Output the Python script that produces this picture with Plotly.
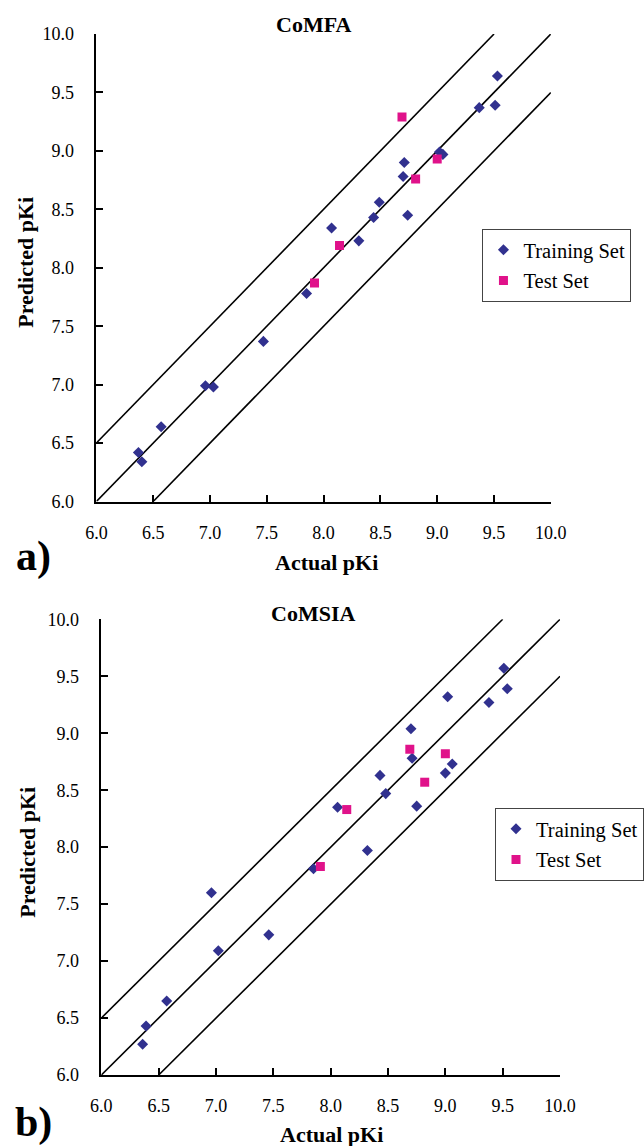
import plotly.graph_objects as go

# ---------------- data ----------------
AXIS_MIN, AXIS_MAX = 6.0, 10.0
LINE_OFFSETS = [-0.5, 0.0, 0.5]

comfa_train_actual = [9.53, 9.37, 9.51, 9.02, 9.05, 8.71, 8.70, 8.49, 8.44, 8.74,
                      8.07, 8.31, 7.85, 7.47, 6.96, 7.03, 6.57, 6.37, 6.40]
comfa_train_pred = [9.64, 9.37, 9.39, 8.99, 8.97, 8.90, 8.78, 8.56, 8.43, 8.45,
                    8.34, 8.23, 7.78, 7.37, 6.99, 6.98, 6.64, 6.42, 6.34]
comfa_test_actual = [8.69, 8.81, 9.00, 8.14, 7.92]
comfa_test_pred = [9.29, 8.76, 8.93, 8.19, 7.87]

comsia_train_actual = [9.51, 9.54, 9.38, 9.02, 8.70, 8.71, 9.06, 9.00, 8.43, 8.48,
                       8.75, 8.06, 8.32, 7.85, 6.96, 7.46, 7.02, 6.57, 6.39, 6.36]
comsia_train_pred = [9.57, 9.39, 9.27, 9.32, 9.04, 8.78, 8.73, 8.65, 8.63, 8.47,
                     8.36, 8.35, 7.97, 7.81, 7.60, 7.23, 7.09, 6.65, 6.43, 6.27]
comsia_test_actual = [8.69, 9.00, 8.82, 8.14, 7.91]
comsia_test_pred = [8.86, 8.82, 8.57, 8.33, 7.83]

panel_titles = ["CoMFA", "CoMSIA"]
panel_labels = ["a)", "b)"]
x_title = "Actual pKi"
y_title = "Predicted pKi"
series_names = ["Training Set", "Test Set"]

# ---------------- style ----------------
W, H = 644, 1146
FONT = "Liberation Serif, Times New Roman, serif"
TRAIN_COLOR = "#31318F"
TEST_COLOR = "#E0128A"


def fx(px):
    return px / W


def fy(py):
    return 1 - py / H


fig = go.Figure()

panels = [
    dict(xa="x", ya="y", legend="legend",
         train=(comfa_train_actual, comfa_train_pred),
         test=(comfa_test_actual, comfa_test_pred)),
    dict(xa="x2", ya="y2", legend="legend2",
         train=(comsia_train_actual, comsia_train_pred),
         test=(comsia_test_actual, comsia_test_pred)),
]

for p in panels:
    for d in LINE_OFFSETS:
        x0 = max(AXIS_MIN, AXIS_MIN - d)
        x1 = min(AXIS_MAX, AXIS_MAX - d)
        fig.add_trace(go.Scatter(
            x=[x0, x1], y=[x0 + d, x1 + d], mode="lines",
            line=dict(color="black", width=1.6),
            xaxis=p["xa"], yaxis=p["ya"], showlegend=False, hoverinfo="skip"))
    fig.add_trace(go.Scatter(
        x=p["train"][0], y=p["train"][1], mode="markers", name=series_names[0],
        marker=dict(symbol="diamond", size=8.5, color=TRAIN_COLOR, line=dict(width=0)),
        xaxis=p["xa"], yaxis=p["ya"], legend=p["legend"], legendgroup="train"))
    fig.add_trace(go.Scatter(
        x=p["test"][0], y=p["test"][1], mode="markers", name=series_names[1],
        marker=dict(symbol="square", size=9, color=TEST_COLOR, line=dict(width=0)),
        xaxis=p["xa"], yaxis=p["ya"], legend=p["legend"], legendgroup="test"))

axis_common = dict(
    range=[AXIS_MIN, AXIS_MAX], dtick=0.5, tick0=AXIS_MIN, tickformat=".1f",
    showline=True, linecolor="black", linewidth=1.6, mirror=False,
    ticks="inside", ticklen=7, tickwidth=1.6, tickcolor="black",
    showgrid=False, zeroline=False, automargin=False,
    tickfont=dict(family=FONT, size=18, color="black"),
)

legend_common = dict(xanchor="left", yanchor="top",
                     bordercolor="#444", borderwidth=1, bgcolor="white",
                     font=dict(family=FONT, size=20.5, color="black"),
                     traceorder="grouped", tracegroupgap=1)

fig.update_layout(
    width=W, height=H,
    margin=dict(l=0, r=0, t=0, b=0),
    paper_bgcolor="white", plot_bgcolor="white",
    font=dict(family=FONT, color="black"),
    xaxis=dict(axis_common, domain=[fx(97.3), fx(556)], anchor="y", ticklabelstandoff=14),
    yaxis=dict(axis_common, domain=[fy(501.5), fy(34)], anchor="x", ticklabelstandoff=17),
    xaxis2=dict(axis_common, domain=[fx(102.3), fx(565.3)], anchor="y2", ticklabelstandoff=14),
    yaxis2=dict(axis_common, domain=[fy(1075), fy(619.3)], anchor="x2", ticklabelstandoff=17),
    legend=dict(legend_common, x=fx(487), y=fy(229)),
    legend2=dict(legend_common, x=fx(500), y=fy(808)),
    showlegend=True,
)

ann = []
# panel titles
for title, (cx, cy) in zip(panel_titles, [(316, 24), (315.5, 613)]):
    ann.append(dict(text=f"<b>{title}</b>", x=fx(cx), y=fy(cy), xref="paper", yref="paper",
                    xanchor="center", yanchor="middle", showarrow=False,
                    font=dict(family=FONT, size=22, color="black")))
# x titles
for (cx, cy) in [(330, 562), (335, 1134)]:
    ann.append(dict(text=f"<b>{x_title}</b>", x=fx(cx), y=fy(cy), xref="paper", yref="paper",
                    xanchor="center", yanchor="middle", showarrow=False,
                    font=dict(family=FONT, size=22, color="black")))
# y titles
for (cx, cy) in [(25, 262), (27, 852)]:
    ann.append(dict(text=f"<b>{y_title}</b>", x=fx(cx), y=fy(cy), xref="paper", yref="paper",
                    xanchor="center", yanchor="middle", showarrow=False, textangle=-90,
                    font=dict(family=FONT, size=22, color="black")))
# panel labels
for lab, (cx, cy) in zip(panel_labels, [(34, 556), (34, 1122)]):
    ann.append(dict(text=f"<b>{lab}</b>", x=fx(cx), y=fy(cy), xref="paper", yref="paper",
                    xanchor="center", yanchor="middle", showarrow=False,
                    font=dict(family=FONT, size=42, color="black")))
fig.update_layout(annotations=ann)

fig.write_html("out.html", config={"displayModeBar": False},
               post_script="document.body.style.margin='0';document.body.style.overflow='hidden';")
